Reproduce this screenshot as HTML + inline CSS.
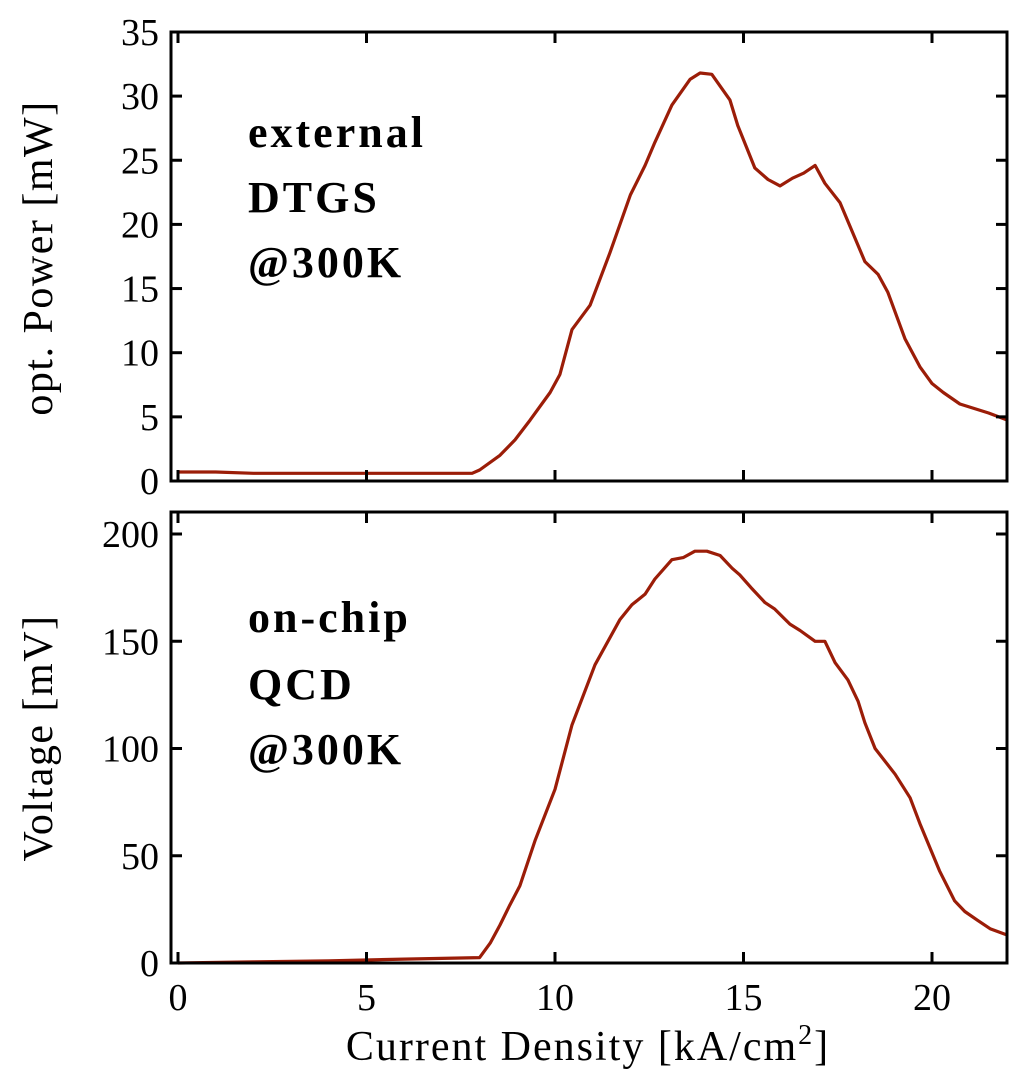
<!DOCTYPE html>
<html><head><meta charset="utf-8"><style>
html,body{margin:0;padding:0;background:#fff}
svg{display:block;font-family:"Liberation Serif",serif}
</style></head><body>
<svg id="chart" width="1024" height="1085" viewBox="0 0 1024 1085" xmlns="http://www.w3.org/2000/svg"></svg>
<script>
const xTicks=[0,5,10,15,20];
const topTicks=[0,5,10,15,20,25,30,35];
const botTicks=[0,50,100,150,200];
const topX=[0,1,2,3,4,5,6,7,7.8,8.0,8.54,8.94,9.34,9.87,10.13,10.45,10.93,11.46,12.0,12.39,12.65,13.1,13.58,13.85,14.16,14.64,14.85,15.3,15.65,15.97,16.3,16.6,16.9,17.16,17.56,18.22,18.57,18.83,19.28,19.68,20.0,20.3,20.74,21.5,22];
const topY=[0.7,0.7,0.6,0.6,0.6,0.6,0.6,0.6,0.6,0.86,2.0,3.2,4.75,6.9,8.3,11.8,13.7,17.8,22.3,24.6,26.4,29.3,31.3,31.8,31.7,29.7,27.7,24.4,23.5,23.0,23.6,24.0,24.6,23.2,21.7,17.1,16.1,14.7,11.1,8.9,7.6,6.9,6.0,5.3,4.75];
const botX=[0,2,4,6,8,8.28,8.54,8.8,9.07,9.47,10,10.45,11.06,11.72,12.04,12.39,12.65,13.1,13.4,13.71,14.03,14.38,14.7,14.9,15.2,15.57,15.83,16.23,16.5,16.9,17.16,17.43,17.77,18.04,18.22,18.49,19.02,19.42,19.68,20.2,20.6,20.87,21.2,21.54,22];
const botY=[0,0.5,1,1.8,2.5,9.3,17.7,27,36,57,81,111,139,160,167,172,179,188,189,192,192,190,184,181,175,168,165,158,155,150,150,140,132,122,112,100,88,77,65,43,29,24,20,16,13];

const NS="http://www.w3.org/2000/svg";
const svg=document.getElementById('chart');
function mk(t,a,p){const e=document.createElementNS(NS,t);for(const k in a)e.setAttribute(k,a[k]);(p||svg).appendChild(e);return e;}
const L=171,R=1007;
const sx=v=>178+v*37.7;
const panels=[
 {name:'top',top:32,bot:481,y:v=>481-v*12.83,ticks:topTicks,xs:topX,ys:topY,title:'opt. Power [mW]',tcy:258,labels:['external','DTGS','@300K'],ly:[147,212,277]},
 {name:'bottom',top:512,bot:963,y:v=>963-v*2.145,ticks:botTicks,xs:botX,ys:botY,title:'Voltage [mV]',tcy:738,labels:['on-chip','QCD','@300K'],ly:[632,699,764]}
];
panels.forEach(p=>{
 const g=mk('g',{});
 
 
 const d=p.xs.map((x,i)=>(i?'L':'M')+sx(x).toFixed(1)+' '+p.y(p.ys[i]).toFixed(1)).join(' ');
 const ln=mk('path',{d:d,fill:'none',stroke:'#9b1d08','stroke-width':3.2,'stroke-linejoin':'round'},g);
 
 
 p.ticks.forEach(t=>{
  const y=p.y(t);
  if(y>p.top+1&&y<p.bot-1){mk('line',{x1:L,x2:L+11,y1:y,y2:y,stroke:'#000','stroke-width':3},g);mk('line',{x1:R-11,x2:R,y1:y,y2:y,stroke:'#000','stroke-width':3},g);}
  const tx=mk('text',{x:L-12,y:y+13,'text-anchor':'end','font-size':38},g);
  tx.textContent=t;
  
  
 });
 xTicks.forEach(t=>{
  const x=sx(t);
  mk('line',{x1:x,x2:x,y1:p.bot,y2:p.bot-11,stroke:'#000','stroke-width':3},g);
  mk('line',{x1:x,x2:x,y1:p.top,y2:p.top+11,stroke:'#000','stroke-width':3},g);
 });
 const fr=mk('rect',{x:L,y:p.top,width:R-L,height:p.bot-p.top,fill:'none',stroke:'#000','stroke-width':3},g);
 
 
 const yt=mk('text',{x:0,y:0,transform:`translate(52 ${p.tcy}) rotate(-90)`,'text-anchor':'middle','font-size':42,'letter-spacing':1.5},g);
 yt.textContent=p.title;
 
 
 p.labels.forEach((s,i)=>{
  const t=mk('text',{x:248,y:p.ly[i],'font-size':44,'font-weight':'bold','letter-spacing':3},g);
  t.textContent=s;
  
  
 });
});
xTicks.forEach(t=>{
 const tx=mk('text',{x:sx(t),y:1010,'text-anchor':'middle','font-size':38});
 tx.textContent=t;
 
 
});
const xt=mk('text',{x:588,y:1060,'text-anchor':'middle','font-size':42,'letter-spacing':2});
xt.innerHTML='Current Density [kA/cm<tspan dy="-16" font-size="28">2</tspan><tspan dy="16">]</tspan>';


</script>
</body></html>
